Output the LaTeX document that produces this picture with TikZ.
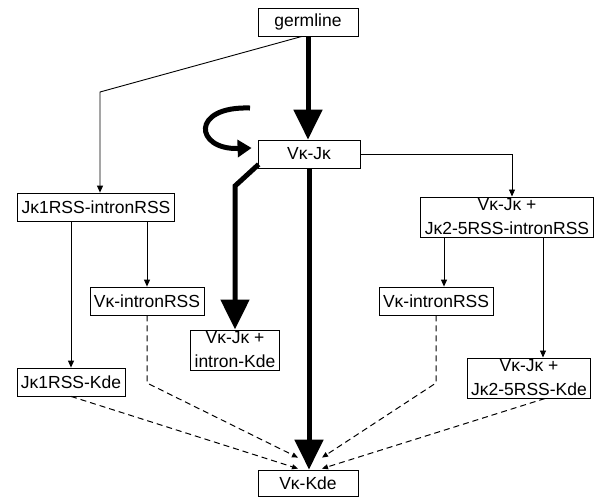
\documentclass[tikz,border=0pt]{standalone}
\usepackage{fontspec}
\setmainfont{Liberation Sans}
\usetikzlibrary{arrows.meta}
\tikzstyle{state}=[draw=black, line width=0.8pt, inner xsep=4pt, inner ysep=2pt, minimum height=28pt, align=center, font=\fontsize{17.5}{24}\selectfont]
\tikzstyle{thinedge}=[draw=black, line width=0.9pt, -{Triangle[length=7pt,width=6pt]}]
\tikzstyle{boldedge}=[draw=black, line width=5pt, line join=miter, -{Triangle[length=30pt,width=28pt]}]
\tikzstyle{loopedge}=[draw=black, line width=5pt, -{Triangle[length=14pt,width=17pt]}]
\tikzstyle{dashedge}=[draw=black, line width=1pt, dash pattern=on 6pt off 4pt, -{Triangle[length=6pt,width=5pt]}]

\begin{document}
\begin{tikzpicture}[x=1pt, y=-1pt]
	\useasboundingbox (0,0) rectangle (605,499);
	% states
	\node [style=state, minimum width=100pt] (germ) at (308, 22) {germline};
	\node [style=state, minimum width=102pt] (vj) at (309, 154) {Vκ-Jκ};
	\node [style=state] (j1i) at (96, 207) {Jκ1RSS-intronRSS};
	\node [style=state] (vjj) at (507, 217) {Vκ-Jκ +\\Jκ2-5RSS-intronRSS};
	\node [style=state] (vil) at (147, 301) {Vκ-intronRSS};
	\node [style=state] (vir) at (436, 301) {Vκ-intronRSS};
	\node [style=state] (vjk) at (235, 350) {Vκ-Jκ +\\intron-Kde};
	\node [style=state] (j1k) at (71, 382) {Jκ1RSS-Kde};
	\node [style=state] (vjjk) at (529, 378) {Vκ-Jκ +\\Jκ2-5RSS-Kde};
	\node [style=state, minimum width=100pt, minimum height=26pt] (vk) at (308, 483) {Vκ-Kde};
	% corners
	\coordinate (gl) at (100, 92);
	\coordinate (loop) at (250, 108);
	\coordinate (bend) at (235, 186);
	\coordinate (dl) at (147, 383);
	\coordinate (dr) at (436, 383);
	% main path
	\draw [style=boldedge] (germ.south) -- (germ.south |- vj.north);
	\draw [style=boldedge] (vj.south) -- (vj.south |- vk.north);
	\draw [style=boldedge] ([shift={(1,-4)}]vj.south west) -- (bend) -- (vjk.north);
	\draw [style=loopedge] (loop) .. controls (190, 106) and (195, 150) .. ([shift={(-6,-6)}]vj.west);
	% thin arrows
	\draw [style=thinedge] ([xshift=-6pt]germ.south) -- (gl) -- (gl |- j1i.north);
	\draw [style=thinedge] (vj.east) -| ([xshift=5pt]vjj.north);
	\draw [style=thinedge] (vil.north |- j1i.south) -- (vil.north);
	\draw [style=thinedge] (j1k.north |- j1i.south) -- (j1k.north);
	\draw [style=thinedge] ([xshift=8pt]vir.north |- vjj.south) -- ([xshift=8pt]vir.north);
	\draw [style=thinedge] ([xshift=14pt]vjjk.north |- vjj.south) -- ([xshift=14pt]vjjk.north);
	% dashed arrows
	\draw [style=dashedge] (vil.south) -- (dl) -- ([shift={(-10,-12)}]vk.north);
	\draw [style=dashedge] (j1k.south) -- ([shift={(-10,-1)}]vk.north);
	\draw [style=dashedge] (vir.south) -- (dr) -- ([shift={(14,-12)}]vk.north);
	\draw [style=dashedge] ([xshift=16pt]vjjk.south) -- ([shift={(14,-1)}]vk.north);
\end{tikzpicture}
\end{document}
